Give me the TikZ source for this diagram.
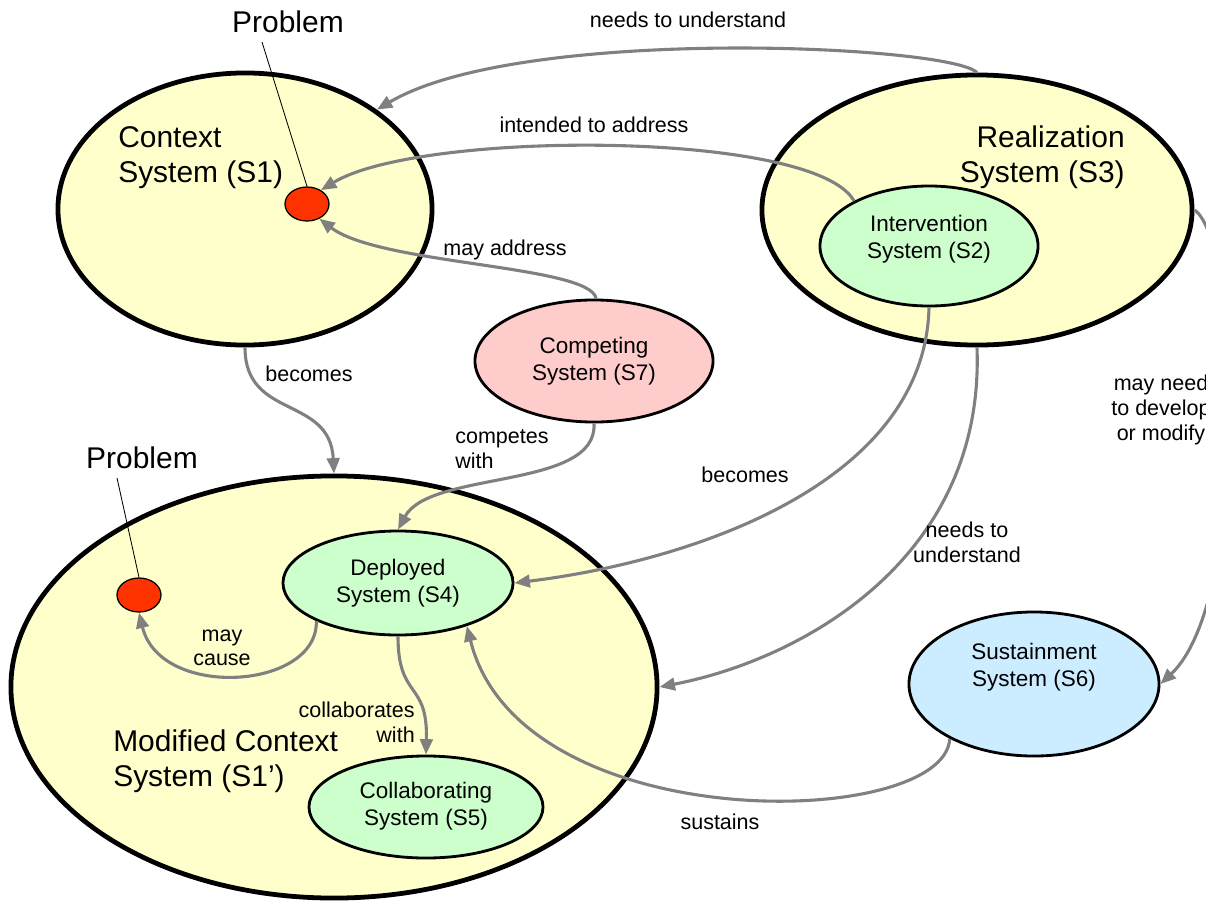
\documentclass[tikz,border=0pt]{standalone}
\usepackage{fontspec}
\setmainfont{Liberation Sans}
\usetikzlibrary{shapes.geometric,arrows.meta}
\definecolor{ctxyellow}{HTML}{FFFFCC}
\definecolor{sysgreen}{HTML}{CCFFCC}
\definecolor{syspink}{HTML}{FFCCCC}
\definecolor{sysblue}{HTML}{CCECFF}
\definecolor{probred}{HTML}{FF3300}
\definecolor{linkgray}{HTML}{808080}
\begin{document}
\begin{tikzpicture}[x=0.025cm,y=-0.025cm,
  bigsys/.style={ellipse,draw=black,line width=3.4pt,fill=ctxyellow,inner sep=0pt},
  smallsys/.style={ellipse,draw=black,line width=2pt,inner sep=0pt},
  probdot/.style={ellipse,draw=black,line width=0.9pt,fill=probred,inner sep=0pt,
    minimum width=1.1cm,minimum height=0.85cm},
  link/.style={draw=linkgray,line width=2.2pt,-{Triangle[length=11pt,width=9pt]}},
  lbl/.style={font=\fontsize{15.3pt}{17.5pt}\selectfont,inner sep=0pt,align=center},
  systxt/.style={font=\fontsize{16pt}{19pt}\selectfont,inner sep=0pt,align=center},
  bigtxt/.style={font=\fontsize{21.3pt}{24.8pt}\selectfont,inner sep=0pt},
  leader/.style={draw=black,line width=0.6pt}]

\useasboundingbox (0,0) rectangle (1206,902);
\clip (0,0) rectangle (1206,902);

% outer system ellipses
\node[bigsys,minimum width=9.35cm,minimum height=6.8cm] (s1) at (245,209) {};
\node[bigsys,minimum width=10.75cm,minimum height=6.75cm] (s3) at (977,210) {};
\node[bigsys,minimum width=16.15cm,minimum height=10.55cm] (s1p) at (334,687) {};

% inner systems
\node[smallsys,fill=sysgreen,minimum width=5.45cm,minimum height=3.0cm] (s2) at (929,246) {};
\node[smallsys,fill=syspink,minimum width=5.95cm,minimum height=3.05cm] (s7) at (594,361) {};
\node[smallsys,fill=sysgreen,minimum width=5.75cm,minimum height=2.6cm] (s4) at (398,583) {};
\node[smallsys,fill=sysgreen,minimum width=5.85cm,minimum height=2.55cm] (s5) at (426,807) {};
\node[smallsys,fill=sysblue,minimum width=6.25cm,minimum height=3.6cm] (s6) at (1034,684) {};

% problems
\node[probdot] (p1) at (307,204) {};
\node[probdot] (p2) at (139,595) {};

% system names
\node[bigtxt,align=left,anchor=west] (t1) at (118,158) {Context\\System (S1)};
\node[bigtxt,align=right,anchor=east] (t3) at (1125,157) {Realization\\System (S3)};
\node[bigtxt,align=left,anchor=west] (t1p) at (113,761) {Modified Context\\System (S1’)};
\node[systxt] (t2) at (929,239) {Intervention\\System (S2)};
\node[systxt] (t7) at (594,361) {Competing\\System (S7)};
\node[systxt] (t4) at (398,583) {Deployed\\System (S4)};
\node[systxt] (t5) at (426,806) {Collaborating\\System (S5)};
\node[systxt] (t6) at (1034,667) {Sustainment\\System (S6)};

% problem callouts
\node[bigtxt] (prob1) at (288,22) {Problem};
\node[bigtxt] (prob2) at (142,458) {Problem};
\coordinate (lead1) at (262,42);
\coordinate (lead2) at (117,478);
\draw[leader] (lead1) -- (p1.north);
\draw[leader] (lead2) -- (p2.north);

% relationships
\draw[link] (s3.north) .. controls (950,45) and (520,25) .. (s1.37);
\draw[link] (s2.149) .. controls (815,130) and (420,130) .. (p1.45);
\draw[link] (s7.88) .. controls (590,265) and (380,265) .. (p1.-50);
\draw[link] (s1.south) .. controls (245,420) and (330,395) .. (s1p.north);
\draw[link] (s7.south) .. controls (598,490) and (430,470) .. (s4.north);
\draw[link] (s2.south) .. controls (925,480) and (700,560) .. (s4.east);
\draw[link] (s3.south) .. controls (985,560) and (800,660) .. (s1p.east);
\draw[link] (s3.east) .. controls (1240,240) and (1250,600) .. (s6.east);
\draw[link] (s6.213) .. controls (945,830) and (520,840) .. (s4.-32);
\draw[link] (s4.205) .. controls (318,690) and (160,700) .. (p2.south);
\draw[link] (s4.south) .. controls (398,700) and (428,680) .. (s5.north);

% relationship labels
\node[lbl] (l1) at (688,20) {needs to understand};
\node[lbl] (l2) at (594,125) {intended to address};
\node[lbl] (l3) at (505,250) {may address};
\node[lbl] (l4) at (309,374) {becomes};
\node[lbl,align=left,anchor=west] (l5) at (455,449) {competes\\with};
\node[lbl] (l6) at (745,475) {becomes};
\node[lbl] (l7) at (967,542) {needs to\\understand};
\node[lbl] (l8) at (1161,410) {may need\\to develop\\or modify};
\node[lbl] (l9) at (222,648) {may\\cause};
\node[lbl,align=right,anchor=east] (l10) at (415,722) {collaborates\\with};
\node[lbl] (l11) at (720,822) {sustains};
\end{tikzpicture}
\end{document}
